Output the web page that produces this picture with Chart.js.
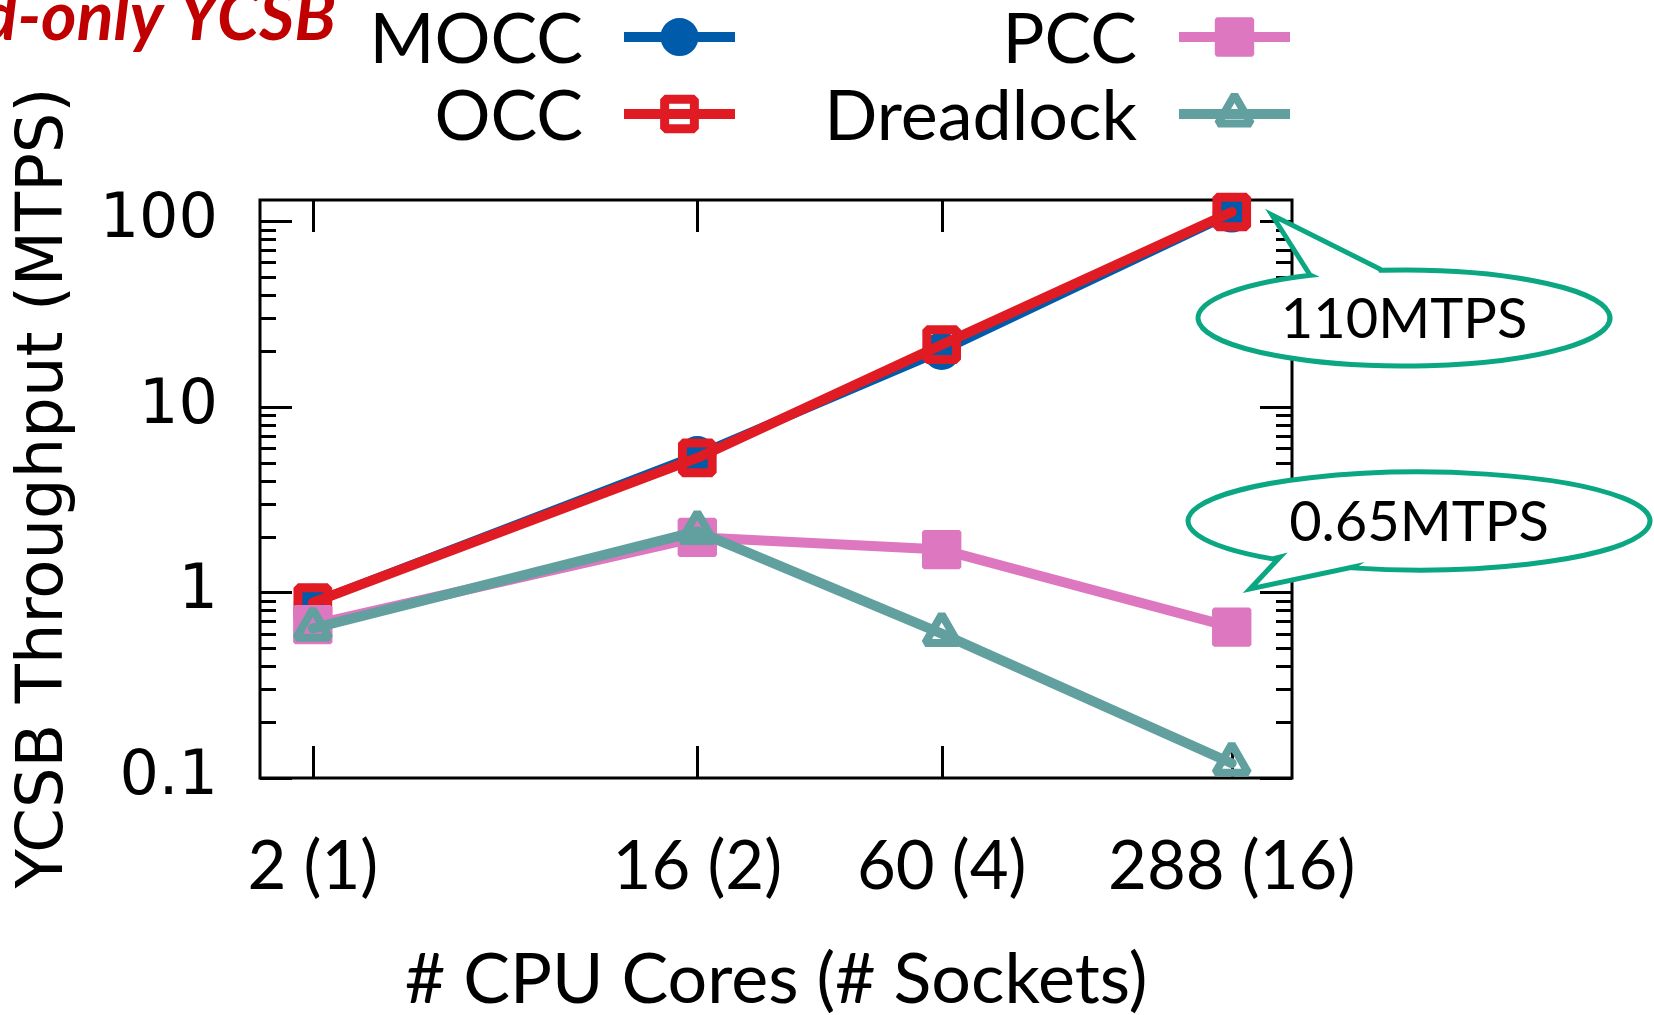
<!DOCTYPE html>
<html>
<head>
<meta charset="utf-8">
<script src="https://cdn.jsdelivr.net/npm/chart.js@4.4.0/dist/chart.umd.min.js"></script>
<style>
  html, body { margin: 0; padding: 0; background: #fff; }
  #wrap { width: 1654px; height: 1015px; }
</style>
</head>
<body>
<div id="wrap"><canvas id="chart" width="1654" height="1015"></canvas></div>
<script>
// data (MTPS, log scale)
const cores = [2, 16, 60, 288];
const coreLabels = ["2 (1)", "16 (2)", "60 (4)", "288 (16)"];
const moccData = [0.88, 5.5, 20, 110];
const occData = [0.88, 5.3, 21.6, 112];
const pccData = [0.67, 1.98, 1.70, 0.65];
const dreadData = [0.64, 2.13, 0.6, 0.12];
const yTicks = [0.1, 1, 10, 100];

const BLUE = "#005baa";
const RED = "#e01b24";
const PINK = "#dd77c0";
const TEAL = "#62a0a0";
const GREEN = "#0aa782";

function pts(arr) {
  return cores.map((c, i) => ({ x: c, y: arr[i] }));
}

// inward ticks + frame, gnuplot style
const frameTicks = {
  id: "frameTicks",
  beforeDatasetsDraw(chart) {
    const { ctx, chartArea: a, scales: { x, y } } = chart;
    ctx.save();
    ctx.strokeStyle = "#000";
    ctx.lineWidth = 3;
    ctx.beginPath();
    yTicks.forEach(v => {
      for (let m = 1; m < 10; m++) {
        const val = v * m;
        if (val > y.max) break;
        const py = Math.round(y.getPixelForValue(val)) + 0.5;
        const len = m === 1 ? 32 : 16;
        ctx.moveTo(a.left, py); ctx.lineTo(a.left + len, py);
        ctx.moveTo(a.right, py); ctx.lineTo(a.right - len, py);
      }
    });
    cores.forEach(c => {
      const px = Math.round(x.getPixelForValue(c)) + 0.5;
      ctx.moveTo(px, a.top); ctx.lineTo(px, a.top + 32);
      ctx.moveTo(px, a.bottom); ctx.lineTo(px, a.bottom - 32);
    });
    ctx.stroke();
    ctx.strokeRect(a.left, a.top, a.right - a.left, a.bottom - a.top);
    ctx.restore();
    // markers get bevelled corners like the original
    ctx.lineJoin = "bevel";
  }
};

// texts, legend and callouts
const extras = {
  id: "extras",
  afterDraw(chart) {
    const ctx = chart.ctx;
    ctx.save();

    // cut-off title
    ctx.fillStyle = "#c00000";
    ctx.font = "italic bold 68px Lato";
    ctx.textAlign = "right";
    ctx.textBaseline = "alphabetic";
    ctx.fillText("Read-only YCSB", 336, 40);

    // y axis title
    ctx.save();
    ctx.translate(45, 488);
    ctx.rotate(-Math.PI / 2);
    ctx.fillStyle = "#000";
    ctx.font = "64px 'DejaVu Sans'";
    ctx.textAlign = "center";
    ctx.textBaseline = "middle";
    ctx.fillText("YCSB Throughput (MTPS)", 0, 0);
    ctx.restore();

    // legend
    const items = [
      { ds: 0, tx: 583, base: 63, ly: 37, x0: 624, x1: 735 },
      { ds: 1, tx: 583, base: 140, ly: 114, x0: 624, x1: 735 },
      { ds: 2, tx: 1137, base: 63, ly: 37, x0: 1179, x1: 1290 },
      { ds: 3, tx: 1137, base: 140, ly: 114, x0: 1179, x1: 1290 }
    ];
    items.forEach(it => {
      const d = chart.data.datasets[it.ds];
      ctx.fillStyle = "#000";
      ctx.font = "70px Lato";
      ctx.textAlign = "right";
      ctx.textBaseline = "alphabetic";
      ctx.fillText(d.label, it.tx, it.base);
      ctx.strokeStyle = d.borderColor;
      ctx.lineWidth = 10;
      ctx.beginPath();
      ctx.moveTo(it.x0, it.ly);
      ctx.lineTo(it.x1, it.ly);
      ctx.stroke();
      ctx.lineJoin = "bevel";
      ctx.fillStyle = d.pointBackgroundColor;
      ctx.strokeStyle = d.pointBorderColor;
      ctx.lineWidth = d.pointBorderWidth;
      Chart.helpers.drawPoint(ctx, {
        pointStyle: d.pointStyle, radius: d.pointRadius,
        rotation: 0, borderWidth: d.pointBorderWidth
      }, (it.x0 + it.x1) / 2, it.ly);
    });

    // callouts
    const bubbles = [
      { text: "110MTPS", cx: 1404, cy: 318, rx: 206, ry: 48, tip: [1272, 215], b1: [1310, 275], b2: [1380, 269] },
      { text: "0.65MTPS", cx: 1419, cy: 521, rx: 231, ry: 49, tip: [1250, 589], b1: [1280, 557], b2: [1353, 567] }
    ];
    bubbles.forEach(b => {
      const t1 = Math.atan2((b.b1[1] - b.cy) / b.ry, (b.b1[0] - b.cx) / b.rx);
      const t2 = Math.atan2((b.b2[1] - b.cy) / b.ry, (b.b2[0] - b.cx) / b.rx);
      ctx.beginPath();
      ctx.moveTo(b.b1[0], b.b1[1]);
      ctx.lineTo(b.tip[0], b.tip[1]);
      ctx.lineTo(b.b2[0], b.b2[1]);
      const ccw = b.b2[1] < b.cy ? false : true;
      ctx.ellipse(b.cx, b.cy, b.rx, b.ry, 0, t2, t1, ccw);
      ctx.closePath();
      ctx.fillStyle = "#fff";
      ctx.fill();
      ctx.strokeStyle = GREEN;
      ctx.lineWidth = 5;
      ctx.lineJoin = "miter";
      ctx.stroke();
      ctx.fillStyle = "#000";
      ctx.font = "56px Lato";
      ctx.textAlign = "center";
      ctx.textBaseline = "middle";
      ctx.fillText(b.text, b.cx, b.cy + 2);
    });

    ctx.restore();
  }
};

const config = {
  type: "line",
  data: {
    datasets: [
      {
        label: "MOCC", data: pts(moccData), order: 4,
        borderColor: BLUE, borderWidth: 9,
        pointStyle: "circle", pointRadius: 18,
        pointBackgroundColor: BLUE, pointBorderColor: BLUE, pointBorderWidth: 2
      },
      {
        label: "OCC", data: pts(occData), order: 3,
        borderColor: RED, borderWidth: 10,
        pointStyle: "rect", pointRadius: 21,
        pointBackgroundColor: "rgba(0,0,0,0)", pointBorderColor: RED, pointBorderWidth: 9
      },
      {
        label: "PCC", data: pts(pccData), order: 2,
        borderColor: PINK, borderWidth: 10,
        pointStyle: "rect", pointRadius: 25,
        pointBackgroundColor: PINK, pointBorderColor: PINK, pointBorderWidth: 4
      },
      {
        label: "Dreadlock", data: pts(dreadData), order: 1,
        borderColor: TEAL, borderWidth: 10,
        pointStyle: "triangle", pointRadius: 19,
        pointBackgroundColor: "rgba(0,0,0,0)", pointBorderColor: TEAL, pointBorderWidth: 8
      }
    ]
  },
  options: {
    responsive: false,
    animation: false,
    devicePixelRatio: 1,
    clip: false,
    layout: { padding: { top: 200, right: 362, left: 0, bottom: 0 } },
    elements: { line: { tension: 0, borderJoinStyle: "round", borderCapStyle: "round" } },
    plugins: { legend: { display: false }, tooltip: { enabled: false } },
    scales: {
      x: {
        type: "logarithmic",
        min: 1.503,
        max: 399,
        afterBuildTicks: s => { s.ticks = cores.map(v => ({ value: v })); },
        afterFit: s => { s.height = 237; },
        grid: { display: false, drawTicks: false },
        border: { display: false },
        ticks: {
          autoSkip: false, maxRotation: 0, padding: 56,
          color: "#000",
          font: { family: "Lato", size: 67, lineHeight: 1 },
          callback: v => coreLabels[cores.indexOf(v)]
        },
        title: {
          display: true, text: "# CPU Cores (# Sockets)", color: "#000",
          font: { family: "Lato", size: 70, lineHeight: 1 },
          padding: { top: 0, bottom: 0 }
        }
      },
      y: {
        type: "logarithmic",
        min: 0.1,
        max: 130,
        afterBuildTicks: s => { s.ticks = yTicks.map(v => ({ value: v })); },
        afterFit: s => { s.width = 260; },
        grid: { display: false, drawTicks: false },
        border: { display: false },
        ticks: {
          padding: 42, color: "#000",
          font: { family: "DejaVu Sans", size: 62, lineHeight: 1 },
          callback: v => String(v)
        }
      }
    }
  },
  plugins: [frameTicks, extras]
};

new Chart(document.getElementById("chart"), config);
</script>
</body>
</html>
